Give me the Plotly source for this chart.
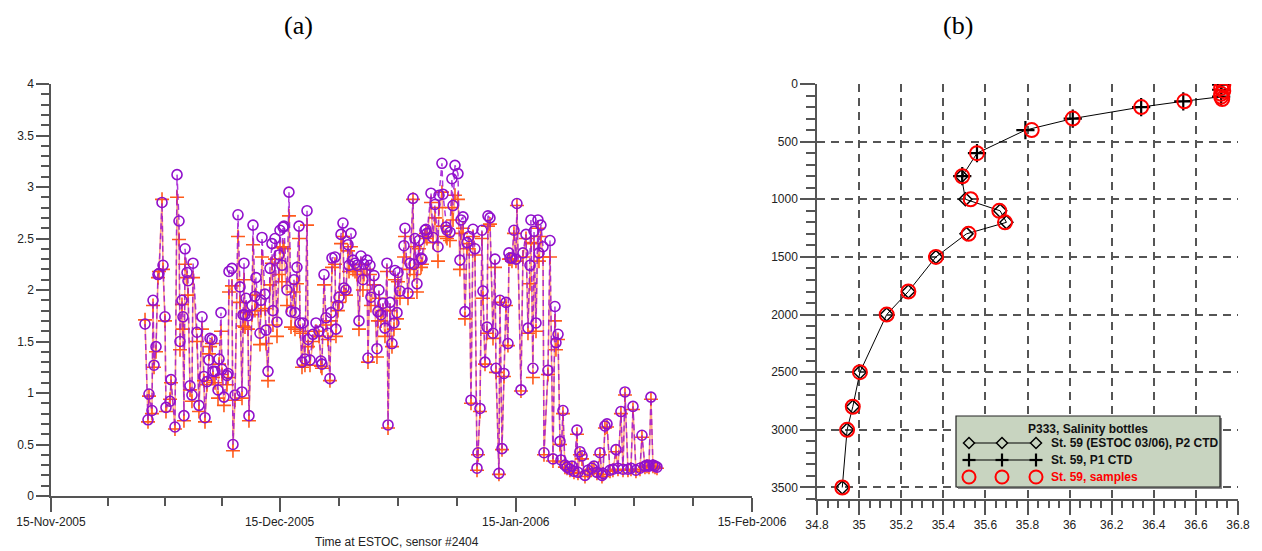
import plotly.graph_objects as go
import pandas as pd

W, H = 1262, 551

# ---------------- Panel (a) data ----------------
days_since_15nov = [
    12.34, 12.73, 12.86, 13.25, 13.39, 13.52, 13.78, 14.04, 14.17, 14.57,
    14.70, 14.96, 15.09, 15.62, 15.75, 16.27, 16.54, 16.80, 16.93, 17.19,
    17.32, 17.45, 17.59, 17.85, 17.98, 18.24, 18.50, 18.64, 19.16, 19.42,
    19.82, 20.08, 20.21, 20.47, 20.73, 20.87, 21.13, 21.26, 21.52, 21.92,
    22.05, 22.31, 22.44, 22.70, 23.10, 23.23, 23.36, 23.75, 23.88, 24.15,
    24.54, 24.80, 25.07, 25.20, 25.33, 25.46, 25.59, 25.85, 25.98, 26.38,
    26.51, 26.77, 26.90, 27.43, 27.56, 27.69, 28.08, 28.22, 28.48, 28.74,
    29.00, 29.13, 29.40, 29.66, 29.92, 30.05, 30.31, 30.45, 30.58, 30.97,
    31.23, 31.50, 31.89, 32.02, 32.28, 32.55, 32.68, 32.94, 33.07, 33.33,
    33.60, 33.73, 33.99, 34.38, 34.78, 35.17, 35.43, 35.56, 35.83, 36.09,
    36.35, 36.61, 36.75, 36.88, 37.27, 37.40, 37.66, 37.80, 38.06, 38.32,
    38.45, 38.71, 38.98, 39.11, 39.37, 39.63, 39.90, 40.16, 40.42, 40.68,
    40.94, 41.07, 41.47, 41.60, 41.86, 41.99, 42.39, 42.78, 42.91, 43.04,
    43.31, 43.57, 43.83, 44.09, 44.23, 44.49, 44.75, 45.01, 45.14, 45.41,
    45.54, 45.80, 46.33, 46.46, 46.85, 47.11, 47.51, 47.64, 47.77, 48.03,
    48.29, 48.56, 48.69, 49.08, 49.21, 49.34, 49.87, 50.13, 50.39, 50.79,
    50.92, 51.31, 51.44, 51.84, 51.97, 52.36, 52.62, 52.76, 53.02, 53.41,
    53.67, 53.81, 54.07, 54.33, 54.59, 54.86, 55.12, 55.38, 55.64, 55.91,
    56.04, 56.30, 56.56, 56.69, 56.96, 57.22, 57.35, 57.61, 58.01, 58.27,
    58.40, 58.79, 58.92, 59.19, 59.45, 59.71, 59.97, 60.10, 60.24, 60.50,
    60.76, 61.02, 61.15, 61.68, 61.94, 62.34, 62.60, 62.86, 62.99, 63.25,
    63.39, 63.65, 63.91, 64.04, 64.30, 64.57, 64.70, 65.22, 65.49, 65.88,
    66.14, 66.27, 66.54, 66.80, 66.93, 67.19, 67.45, 67.72, 68.11, 68.37,
    68.64, 69.03, 69.16, 69.42, 69.69, 70.08, 70.47, 71.00, 71.26, 71.65,
    72.05, 72.31, 72.44, 72.70, 72.97, 73.36, 73.75, 74.15, 74.41, 74.80,
    75.07, 75.33, 75.72, 76.12, 76.38, 76.77, 77.30, 77.56, 77.95, 78.22,
    78.48, 78.74, 79.00, 79.27, 79.53,
]

purple_circles = [
    1.67, 0.74, 0.99, 0.83, 1.90, 1.27, 1.45, 2.15, 2.16, 2.85,
    2.24, 1.74, 0.86, 0.92, 1.13, 0.67, 3.12, 2.67, 1.50, 1.90,
    1.74, 0.78, 2.40, 2.17, 2.09, 1.07, 0.98, 2.26, 1.59, 0.88,
    1.74, 1.16, 0.76, 1.11, 1.32, 1.53, 1.52, 1.21, 1.21, 1.03,
    1.33, 1.78, 1.23, 0.96, 1.17, 1.19, 2.18, 2.21, 0.50, 0.98,
    2.73, 2.03, 1.01, 1.76, 2.26, 1.76, 1.92, 1.75, 0.78, 1.85,
    2.63, 1.94, 2.12, 1.58, 1.90, 2.51, 1.96, 1.61, 1.21, 2.21,
    2.45, 1.80, 2.50, 1.69, 2.34, 2.58, 2.24, 2.61, 2.62, 2.00,
    2.95, 1.79, 2.10, 1.78, 2.22, 2.62, 1.68, 1.30, 1.68, 1.33,
    2.77, 1.52, 1.32, 1.57, 1.68, 1.60, 1.31, 1.28, 2.15, 1.73,
    1.58, 1.14, 1.78, 2.31, 2.32, 1.62, 1.85, 1.93, 2.54, 2.65,
    2.02, 2.00, 2.44, 2.24, 2.55, 2.29, 2.26, 2.24, 1.70, 2.33,
    2.10, 2.25, 2.29, 1.34, 2.24, 1.93, 2.14, 1.43, 1.79, 2.00,
    1.76, 1.87, 1.63, 2.26, 0.69, 1.88, 1.48, 1.68, 2.19, 1.78,
    2.17, 1.99, 2.43, 2.60, 1.97, 2.26, 2.89, 2.25, 2.50, 2.06,
    2.48, 2.31, 2.30, 2.58, 2.59, 2.55, 2.94, 2.51, 2.83, 2.42,
    2.92, 3.23, 2.93, 2.61, 2.58, 2.56, 3.08, 2.82, 3.21, 3.13,
    2.29, 2.68, 2.71, 1.79, 2.46, 2.52, 0.93, 2.59, 2.40, 0.27,
    0.42, 0.85, 2.58, 1.99, 1.30, 1.64, 2.72, 2.70, 1.58, 2.30,
    1.24, 0.22, 1.90, 0.46, 1.19, 1.88, 1.48, 2.36, 2.31, 2.31,
    2.58, 2.30, 2.84, 1.03, 2.36, 2.54, 1.63, 2.24, 2.68, 1.24,
    2.57, 1.68, 2.68, 2.36, 2.63, 2.42, 0.42, 1.22, 2.48, 0.36,
    1.84, 1.49, 1.57, 0.53, 0.35, 0.83, 0.30, 0.28, 0.26, 0.29,
    0.24, 0.64, 0.23, 0.43, 0.39, 0.20, 0.25, 0.27, 0.29, 0.23,
    0.42, 0.20, 0.22, 0.68, 0.70, 0.25, 0.26, 0.45, 0.27, 0.82,
    0.26, 1.01, 0.26, 0.27, 0.87, 0.25, 0.27, 0.59, 0.29, 0.30,
    0.29, 0.96, 0.30, 0.29, 0.28,
]

orange_crosses = [
    1.71, 0.72, 0.97, 0.80, 1.85, 1.25, 1.40, 2.12, 2.18, 2.88,
    2.20, 1.70, 0.82, 0.94, 1.10, 0.65, 2.90, 2.49, 1.42, 1.86,
    1.62, 0.73, 2.25, 2.12, 1.95, 1.03, 0.92, 2.12, 1.50, 0.82,
    1.62, 1.12, 0.72, 1.08, 1.38, 1.45, 1.48, 1.15, 1.10, 0.95,
    1.28, 1.60, 1.18, 0.88, 1.08, 1.15, 1.98, 2.04, 0.44, 0.93,
    2.52, 1.88, 0.95, 1.65, 2.10, 1.64, 1.78, 1.62, 0.73, 1.76,
    2.44, 1.80, 1.95, 1.47, 1.80, 2.32, 1.82, 1.48, 1.12, 2.05,
    2.26, 1.66, 2.30, 1.55, 2.15, 2.41, 2.08, 2.42, 2.40, 1.85,
    2.72, 1.64, 1.98, 1.62, 2.06, 2.50, 1.60, 1.25, 1.58, 1.27,
    2.63, 1.45, 1.27, 1.50, 1.60, 1.55, 1.26, 1.24, 2.05, 1.66,
    1.52, 1.12, 1.70, 2.22, 2.25, 1.55, 1.80, 1.88, 2.45, 2.52,
    1.98, 1.95, 2.38, 2.18, 2.42, 2.20, 2.18, 2.15, 1.62, 2.25,
    2.00, 2.15, 2.20, 1.30, 2.15, 1.85, 2.05, 1.35, 1.70, 1.92,
    1.70, 1.80, 1.55, 2.18, 0.66, 1.80, 1.45, 1.62, 2.10, 1.72,
    2.08, 1.92, 2.32, 2.52, 1.92, 2.20, 2.88, 2.15, 2.42, 1.98,
    2.40, 2.22, 2.25, 2.52, 2.55, 2.50, 2.85, 2.46, 2.70, 2.28,
    2.80, 2.95, 2.62, 2.52, 2.50, 2.48, 2.80, 2.68, 2.92, 2.88,
    2.20, 2.55, 2.60, 1.72, 2.40, 2.45, 0.90, 2.52, 2.34, 0.25,
    0.40, 0.82, 2.50, 1.92, 1.28, 1.58, 2.62, 2.64, 1.53, 2.22,
    1.20, 0.21, 1.88, 0.45, 1.16, 1.85, 1.46, 2.30, 2.30, 2.28,
    2.55, 2.28, 2.82, 1.02, 2.32, 2.50, 1.58, 2.06, 2.46, 1.15,
    2.45, 1.60, 2.60, 2.28, 2.52, 2.32, 0.40, 1.18, 2.32, 0.34,
    1.70, 1.42, 1.52, 0.50, 0.33, 0.80, 0.28, 0.27, 0.25, 0.27,
    0.23, 0.60, 0.22, 0.40, 0.36, 0.19, 0.24, 0.26, 0.27, 0.22,
    0.40, 0.19, 0.21, 0.66, 0.67, 0.24, 0.25, 0.43, 0.26, 0.80,
    0.25, 0.98, 0.25, 0.26, 0.84, 0.24, 0.26, 0.57, 0.28, 0.29,
    0.28, 0.94, 0.29, 0.28, 0.27,
]

a_major_dates = ["2005-11-15", "2005-12-15", "2006-01-15", "2006-02-15"]
a_major_labels = ["15-Nov-2005", "15-Dec-2005", "15-Jan-2006", "15-Feb-2006"]
a_y_ticks = [0, 0.5, 1, 1.5, 2, 2.5, 3, 3.5, 4]
a_y_labels = ["0", "0.5", "1", "1.5", "2", "2.5", "3", "3.5", "4"]

# ---------------- Panel (b) data ----------------
p2_depth = [800, 1000, 1100, 1200, 1300, 1500, 1800, 2000, 2500, 2800, 3000, 3500]
p2_sal = [35.486, 35.505, 35.67, 35.70, 35.51, 35.365, 35.234, 35.131, 35.004, 34.97, 34.943, 34.92]

p1_depth = [5, 50, 110, 150, 200, 300, 400, 600, 800]
p1_sal = [36.72, 36.72, 36.72, 36.54, 36.34, 36.015, 35.79, 35.56, 35.49]

sample_depth = [10, 35, 60, 85, 110, 130, 150, 200, 300, 400, 600, 800, 1000,
                1100, 1200, 1300, 1500, 1800, 2000, 2500, 2800, 3000, 3500]
sample_sal = [36.73, 36.72, 36.73, 36.72, 36.72, 36.725, 36.545, 36.34, 36.015, 35.82,
              35.56, 35.49, 35.53, 35.666, 35.693, 35.52, 35.365, 35.234, 35.131,
              35.004, 34.97, 34.943, 34.92]

b_x_ticks = [34.8, 35.0, 35.2, 35.4, 35.6, 35.8, 36.0, 36.2, 36.4, 36.6, 36.8]
b_x_labels = ["34.8", "35", "35.2", "35.4", "35.6", "35.8", "36", "36.2", "36.4", "36.6", "36.8"]
b_y_ticks = [0, 500, 1000, 1500, 2000, 2500, 3000, 3500]
b_y_labels = ["0", "500", "1000", "1500", "2000", "2500", "3000", "3500"]

legend_title = "P333, Salinity bottles"
legend_labels = ["St. 59 (ESTOC 03/06), P2 CTD", "St. 59, P1 CTD", "St. 59, samples"]

assert len(days_since_15nov) == len(purple_circles) == len(orange_crosses)

# ---------------- helpers ----------------
def px(x):
    return x / W

def py(y):
    return 1 - y / H

times = pd.Timestamp("2005-11-15") + pd.to_timedelta(days_since_15nov, unit="D")

# minor ticks: quarters of each month interval
major_ts = [pd.Timestamp(d) for d in a_major_dates]
minor_dates = []
for a, b in zip(major_ts[:-1], major_ts[1:]):
    for k in range(1, 4):
        minor_dates.append(a + (b - a) * k / 4)

AX = "#555555"
FONT = "Liberation Sans"

fig = go.Figure()

fig.add_trace(go.Scatter(
    x=times, y=orange_crosses, mode="lines+markers",
    line=dict(color="rgba(255,130,70,0.7)", width=1.5),
    marker=dict(symbol="cross-thin", size=10, line=dict(color="#ff5a1a", width=1.6)),
    xaxis="x", yaxis="y", showlegend=False))

fig.add_trace(go.Scatter(
    x=times, y=purple_circles, mode="lines+markers",
    line=dict(color="rgba(160,20,210,0.85)", width=1.5, dash="6px,4px"),
    marker=dict(symbol="circle-open", size=10, color="#9010cc", line=dict(color="#9010cc", width=1.6)),
    xaxis="x", yaxis="y", showlegend=False))

fig.add_trace(go.Scatter(
    x=p2_sal, y=p2_depth, mode="lines+markers",
    line=dict(color="black", width=1),
    marker=dict(symbol="diamond-open", size=10, color="black", line=dict(color="black", width=1.5)),
    xaxis="x2", yaxis="y2", showlegend=False))

fig.add_trace(go.Scatter(
    x=p1_sal, y=p1_depth, mode="lines+markers",
    line=dict(color="black", width=1),
    marker=dict(symbol="cross-thin", size=13, color="black", line=dict(color="black", width=2.2)),
    xaxis="x2", yaxis="y2", showlegend=False))

fig.add_trace(go.Scatter(
    x=sample_sal, y=sample_depth, mode="markers",
    marker=dict(symbol="circle-open", size=14, color="#ff0000", line=dict(color="#ff0000", width=2)),
    xaxis="x2", yaxis="y2", showlegend=False))

tickfont = dict(family=FONT, size=12, color="#222222")

fig.update_layout(
    width=W, height=H,
    margin=dict(l=0, r=0, t=0, b=0, autoexpand=False),
    paper_bgcolor="white", plot_bgcolor="white",
    showlegend=False,
    xaxis=dict(
        domain=[px(51), px(752)], type="date", automargin=False,
        range=[a_major_dates[0], a_major_dates[-1]],
        tickmode="array", tickvals=a_major_dates, ticktext=a_major_labels,
        ticks="outside", ticklen=14, tickwidth=1.5, tickcolor=AX,
        showline=True, linecolor=AX, linewidth=1.5,
        showgrid=False, zeroline=False, tickfont=tickfont,
        minor=dict(tickmode="array", tickvals=minor_dates, ticks="outside",
                   ticklen=8, tickwidth=1.5, tickcolor=AX, showgrid=False),
        anchor="y",
    ),
    yaxis=dict(
        domain=[py(496), py(84)], range=[0, 4], automargin=False,
        tickmode="array", tickvals=a_y_ticks, ticktext=a_y_labels,
        ticks="outside", ticklen=13, tickwidth=1.5, tickcolor=AX,
        showline=True, linecolor=AX, linewidth=1.5,
        showgrid=False, zeroline=False, tickfont=tickfont,
        minor=dict(dtick=0.1, ticks="outside", ticklen=8, tickwidth=1.5,
                   tickcolor=AX, showgrid=False),
        anchor="x",
    ),
    xaxis2=dict(
        domain=[px(817), px(1238)], range=[34.8, 36.8], automargin=False,
        tickmode="array", tickvals=b_x_ticks, ticktext=b_x_labels,
        ticks="outside", ticklen=14, tickwidth=1.5, tickcolor=AX,
        showline=True, linecolor=AX, linewidth=1.5,
        showgrid=True, gridcolor="#555555", gridwidth=1.5, griddash="8px,6px",
        zeroline=False, tickfont=tickfont,
        minor=dict(dtick=0.05, ticks="outside", ticklen=7, tickwidth=1.5,
                   tickcolor=AX, showgrid=False),
        anchor="y2",
    ),
    yaxis2=dict(
        domain=[py(499), py(84)], range=[3600, 0], automargin=False,
        tickmode="array", tickvals=b_y_ticks, ticktext=b_y_labels,
        ticks="outside", ticklen=15, tickwidth=1.5, tickcolor=AX,
        showline=True, linecolor=AX, linewidth=1.5,
        showgrid=True, gridcolor="#555555", gridwidth=1.5, griddash="8px,6px",
        zeroline=False, tickfont=tickfont,
        minor=dict(dtick=100, ticks="outside", ticklen=9, tickwidth=1.5,
                   tickcolor=AX, showgrid=False),
        anchor="x2",
    ),
)

annotations = [
    dict(text="(a)", x=px(298), y=py(25), xref="paper", yref="paper", showarrow=False,
         font=dict(family="Liberation Serif", size=26, color="black"), xanchor="center", yanchor="middle"),
    dict(text="(b)", x=px(958), y=py(25), xref="paper", yref="paper", showarrow=False,
         font=dict(family="Liberation Serif", size=26, color="black"), xanchor="center", yanchor="middle"),
    dict(text="Time at ESTOC, sensor #2404", x=px(397), y=py(542), xref="paper", yref="paper",
         showarrow=False, font=dict(family=FONT, size=12, color="#222222"),
         xanchor="center", yanchor="middle"),
    dict(text="<b>" + legend_title + "</b>", x=px(1088), y=py(429), xref="paper", yref="paper",
         showarrow=False, font=dict(family=FONT, size=12, color="#111111"),
         xanchor="center", yanchor="middle"),
]
row_y = [443, 460, 477]
row_colors = ["#111111", "#111111", "#ff0000"]
for lab, ry, col in zip(legend_labels, row_y, row_colors):
    annotations.append(dict(text="<b>" + lab + "</b>", x=px(1049), y=py(ry), xref="paper", yref="paper",
                            showarrow=False, font=dict(family=FONT, size=12, color=col),
                            xanchor="left", yanchor="middle"))

# custom legend box + glyphs (decoration, paper coordinates)
shapes = [
    dict(type="rect", xref="paper", yref="paper", x0=px(958), x1=px(1222), y0=py(489), y1=py(418),
         fillcolor="#8a8a8a", line=dict(width=0), layer="above"),
    dict(type="rect", xref="paper", yref="paper", x0=px(956), x1=px(1220), y0=py(487), y1=py(416),
         fillcolor="#c8d4c0", line=dict(color="#222222", width=1.2), layer="above"),
]
gx = [969, 1002, 1036]
for ry in row_y[:2]:
    shapes.append(dict(type="line", xref="paper", yref="paper", x0=px(gx[0]), x1=px(gx[-1]),
                       y0=py(ry), y1=py(ry), line=dict(color="black", width=1), layer="above"))
for cx in gx:
    r = 5.5
    ry = row_y[0]
    path = (f"M {px(cx - r)},{py(ry)} L {px(cx)},{py(ry - r)} L {px(cx + r)},{py(ry)} "
            f"L {px(cx)},{py(ry + r)} Z")
    shapes.append(dict(type="path", xref="paper", yref="paper", path=path,
                       fillcolor="#c8d4c0", line=dict(color="black", width=1.5), layer="above"))
    ry = row_y[1]
    r = 6.5
    shapes.append(dict(type="line", xref="paper", yref="paper", x0=px(cx - r), x1=px(cx + r),
                       y0=py(ry), y1=py(ry), line=dict(color="black", width=2.2), layer="above"))
    shapes.append(dict(type="line", xref="paper", yref="paper", x0=px(cx), x1=px(cx),
                       y0=py(ry - r), y1=py(ry + r), line=dict(color="black", width=2.2), layer="above"))
    ry = row_y[2]
    r = 6.5
    shapes.append(dict(type="circle", xref="paper", yref="paper", x0=px(cx - r), x1=px(cx + r),
                       y0=py(ry + r), y1=py(ry - r), line=dict(color="#ff0000", width=2), layer="above"))

fig.update_layout(annotations=annotations, shapes=shapes)

fig.write_html(
    "out.html",
    config={"displayModeBar": False},
    post_script="document.body.style.margin='0';document.body.style.overflow='hidden';",
)
